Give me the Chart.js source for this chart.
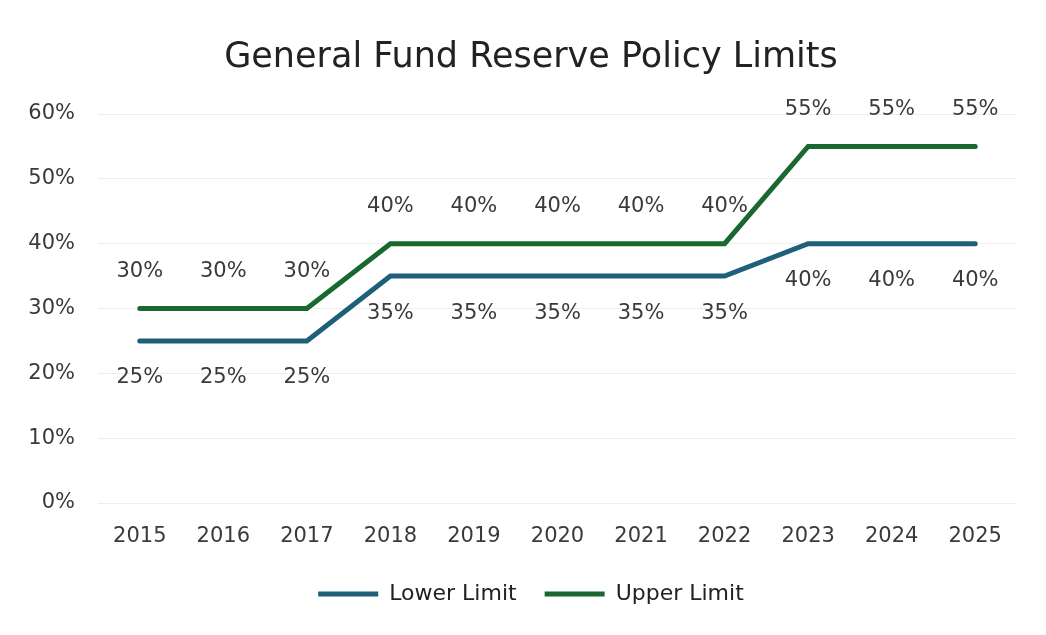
<!DOCTYPE html>
<html>
<head>
<meta charset="utf-8">
<script src="https://cdn.jsdelivr.net/npm/chart.js@4"></script>
<style>
  html, body { margin: 0; padding: 0; background: #ffffff; }
  #wrap { width: 1046px; height: 635px; position: relative; }
</style>
</head>
<body>
<div id="wrap"><canvas id="c" width="1046" height="635"></canvas></div>
<script>
const years = ['2015','2016','2017','2018','2019','2020','2021','2022','2023','2024','2025'];
const lowerLimit = [25, 25, 25, 35, 35, 35, 35, 35, 40, 40, 40];
const upperLimit = [30, 30, 30, 40, 40, 40, 40, 40, 55, 55, 55];
const yTicks = [0, 10, 20, 30, 40, 50, 60];

const FONT = "'DejaVu Sans', sans-serif";
const TXT = '#3a3a3a';

const labelPlugin = {
  id: 'pointLabels',
  afterDatasetsDraw(chart) {
    const ctx = chart.ctx;
    ctx.save();
    ctx.font = '21px ' + FONT;
    ctx.fillStyle = TXT;
    ctx.textAlign = 'center';
    ctx.textBaseline = 'middle';
    chart.data.datasets.forEach((ds, i) => {
      const meta = chart.getDatasetMeta(i);
      const dir = ds.labelPos === 'above' ? -37 : 37;
      meta.data.forEach((pt, j) => {
        ctx.fillText(ds.data[j] + '%', pt.x, pt.y + dir);
      });
    });
    ctx.restore();
  }
};

new Chart(document.getElementById('c'), {
  type: 'line',
  data: {
    labels: years,
    datasets: [
      {
        label: 'Lower Limit',
        data: lowerLimit,
        borderColor: '#1e5f7a',
        backgroundColor: '#1e5f7a',
        borderWidth: 5,
        borderCapStyle: 'round',
        pointRadius: 0,
        tension: 0,
        labelPos: 'below'
      },
      {
        label: 'Upper Limit',
        data: upperLimit,
        borderColor: '#19682f',
        backgroundColor: '#19682f',
        borderWidth: 5,
        borderCapStyle: 'round',
        pointRadius: 0,
        tension: 0,
        labelPos: 'above'
      }
    ]
  },
  options: {
    responsive: false,
    animation: false,
    layout: { padding: { top: 29, left: 16, right: 0, bottom: 20 } },
    plugins: {
      title: {
        display: true,
        text: 'General Fund Reserve Policy Limits',
        font: { family: FONT, size: 35, weight: 'normal' },
        color: '#222222',
        padding: { top: 8, bottom: 35 }
      },
      legend: {
        position: 'bottom',
        labels: {
          font: { family: FONT, size: 22 },
          color: '#222222',
          usePointStyle: true,
          pointStyle: 'line',
          pointStyleWidth: 60,
          boxHeight: 20,
          padding: 28
        }
      },
      tooltip: { enabled: false }
    },
    scales: {
      x: {
        offset: true,
        grid: { display: false, drawTicks: false },
        border: { display: false },
        ticks: { font: { family: FONT, size: 21 }, color: TXT, padding: 21 },
        afterFit(scale) { scale.height = 52; }
      },
      y: {
        min: 0,
        max: 60,
        grid: { color: '#eeeeee', lineWidth: 1, drawTicks: false },
        border: { display: false },
        ticks: {
          font: { family: FONT, size: 21 },
          color: TXT,
          padding: 23,
          stepSize: 10,
          callback: (v) => yTicks.includes(v) ? v + '%' : ''
        },
        afterFit(scale) { scale.width = 82; }
      },
      yRight: {
        position: 'right',
        display: true,
        grid: { display: false, drawTicks: false },
        border: { display: false },
        ticks: { display: false },
        afterFit(scale) { scale.width = 29; }
      }
    }
  },
  plugins: [labelPlugin]
});
</script>
</body>
</html>
